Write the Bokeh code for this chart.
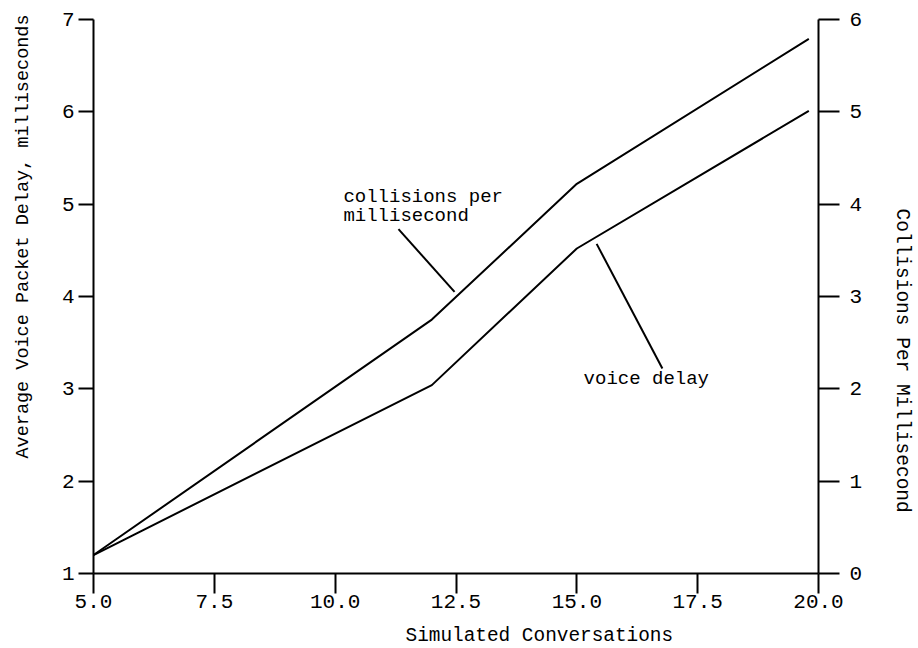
import math
from bokeh.plotting import figure
from bokeh.models import Range1d, LinearAxis, FixedTicker, PrintfTickFormatter, Label, Title
from bokeh.embed import file_html
from bokeh.resources import INLINE

# ---- data ----
conversations = [5.0, 12.0, 15.0, 19.8]
voice_delay = [1.2, 3.04, 4.52, 6.01]      # ms (left axis)
collisions = [0.2, 2.75, 4.22, 5.79]       # per ms (right axis)

x_ticks = [5.0, 7.5, 10.0, 12.5, 15.0, 17.5, 20.0]
left_ticks = [1, 2, 3, 4, 5, 6, 7]
right_ticks = [0, 1, 2, 3, 4, 5, 6]

x_title = "Simulated Conversations"
left_title = "Average Voice Packet Delay, milliseconds"
right_title = "Collisions Per Millisecond"
coll_text = ["collisions per", "millisecond"]
voice_text = "voice delay"

# annotation anchors (data units of the left axis)
coll_text_x = 10.17
coll_text_y = [5.08, 4.87]
coll_leader = ([11.31, 12.47], [4.73, 4.05])
voice_text_xy = (15.14, 3.11)
voice_leader = ([15.41, 16.77], [4.57, 3.22])

FONT = "Liberation Mono"

p = figure(width=918, height=648,
           x_range=Range1d(5, 20), y_range=Range1d(1, 7),
           output_backend="svg", toolbar_location=None,
           min_border_left=93, min_border_right=100,
           min_border_top=19, min_border_bottom=75)
p.outline_line_color = None
p.grid.visible = False
p.background_fill_color = "white"
p.border_fill_color = "white"
p.extra_y_ranges = {"coll": Range1d(0, 6)}

right_axis = LinearAxis(y_range_name="coll")
p.add_layout(right_axis, "right")


def style(ax, ticks, tick_out, standoff, gap):
    ax.ticker = FixedTicker(ticks=ticks)
    ax.axis_line_width = 2
    ax.axis_line_color = "black"
    ax.major_tick_line_width = 2
    ax.major_tick_line_color = "black"
    ax.major_tick_in = 0
    ax.major_tick_out = tick_out
    ax.minor_tick_line_color = None
    ax.major_label_text_font = FONT
    ax.major_label_text_font_size = "21px"
    ax.major_label_text_color = "black"
    ax.major_label_standoff = standoff
    # blank spacer between the tick labels and the offset title
    ax.axis_label = " "
    ax.axis_label_text_font_size = "1px"
    ax.axis_label_text_alpha = 0
    ax.axis_label_standoff = gap


style(p.xaxis[0], x_ticks, 20, 1, 10)
p.xaxis[0].formatter = PrintfTickFormatter(format="%.1f")
style(p.yaxis[0], left_ticks, 15, 4, 21)
style(right_axis, right_ticks, 21, 10, 21)

p.line(conversations, voice_delay, line_color="black", line_width=2)
p.line(conversations, collisions, line_color="black", line_width=2, y_range_name="coll")

# leader lines
p.line(coll_leader[0], coll_leader[1], line_color="black", line_width=2)
p.line(voice_leader[0], voice_leader[1], line_color="black", line_width=2)

for txt, yy in zip(coll_text, coll_text_y):
    p.add_layout(Label(x=coll_text_x, y=yy, text=txt, text_font=FONT,
                       text_font_size="19px", text_baseline="middle",
                       text_align="left", text_color="black"))
p.add_layout(Label(x=voice_text_xy[0], y=voice_text_xy[1], text=voice_text,
                   text_font=FONT, text_font_size="19px", text_baseline="middle",
                   text_align="left", text_color="black"))

# axis titles placed like the reference (off-centre)
p.add_layout(Title(text=left_title, align="left", offset=115, standoff=0,
                   vertical_align="bottom",
                   text_font=FONT, text_font_size="18.5px", text_font_style="normal",
                   text_color="black"), "left")
p.add_layout(Title(text=right_title, align="left", offset=189, standoff=0,
                   vertical_align="bottom",
                   text_font=FONT, text_font_size="19.5px", text_font_style="normal",
                   text_color="black"), "right")
p.add_layout(Title(text=x_title, align="left", offset=312, standoff=0,
                   vertical_align="top",
                   text_font=FONT, text_font_size="19.4px", text_font_style="normal",
                   text_color="black"), "below")

open("out.html", "w").write(file_html(p, INLINE))
